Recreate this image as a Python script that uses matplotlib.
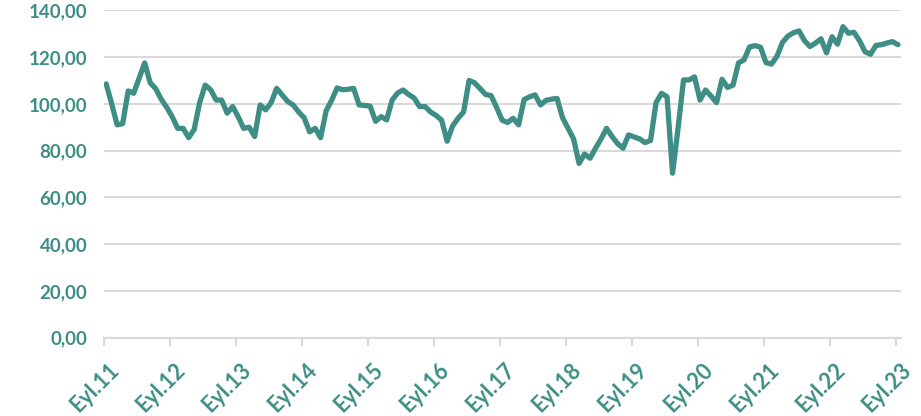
import matplotlib.pyplot as plt
from matplotlib.ticker import FuncFormatter, MultipleLocator
from matplotlib.transforms import ScaledTranslation

# monthly index, Eyl.11 .. Eyl.23
values = [
    108.5, 100.0, 91.0, 91.5, 105.5, 104.5, 111.0, 117.5, 109.0, 106.5, 102.0, 98.5,
    94.5, 89.5, 89.5, 85.5, 89.0, 100.5, 108.0, 106.0, 101.6, 101.6, 96.0, 98.8,
    94.5, 89.5, 90.0, 86.0, 99.5, 97.4, 100.5, 106.6, 103.8, 101.0, 99.5, 96.5,
    94.0, 88.0, 89.5, 85.5, 97.0, 101.5, 106.8, 106.0, 106.2, 106.6, 99.5, 99.3,
    99.0, 92.5, 94.5, 93.1, 101.6, 104.6, 105.9, 104.0, 102.5, 98.8, 98.8, 96.5,
    95.0, 93.0, 84.0, 90.5, 93.8, 96.5, 110.0, 109.0, 106.5, 104.0, 103.5, 98.5,
    93.0, 92.0, 93.8, 91.0, 101.8, 103.0, 103.8, 99.5, 101.5, 102.0, 102.3, 94.0,
    89.5, 85.0, 74.5, 78.5, 76.7, 81.0, 85.0, 89.5, 86.0, 83.0, 81.0, 86.7,
    85.8, 85.0, 83.4, 84.3, 100.5, 104.5, 103.0, 70.3, 89.5, 110.2, 110.2, 111.5,
    101.6, 105.9, 103.3, 100.5, 110.5, 107.0, 108.0, 117.5, 118.8, 124.3, 124.9, 124.2,
    117.6, 117.0, 120.4, 126.3, 129.0, 130.4, 131.2, 127.0, 124.5, 126.0, 127.8, 121.8,
    128.7, 125.5, 133.0, 130.2, 130.6, 127.0, 122.3, 121.2, 125.0, 125.3, 126.0, 126.6,
    125.3,
]
tick_labels = ["Eyl.11", "Eyl.12", "Eyl.13", "Eyl.14", "Eyl.15", "Eyl.16", "Eyl.17",
               "Eyl.18", "Eyl.19", "Eyl.20", "Eyl.21", "Eyl.22", "Eyl.23"]

teal = "#3e8e86"
grid = "#d9d9d9"

fig = plt.figure(figsize=(9.21, 4.16), dpi=100)
ax = fig.add_axes([0.1129, 0.1887, 0.978 - 0.1129, 0.9752 - 0.1887])

x = list(range(len(values)))
ax.plot(x, values, color=teal, lw=3.8, solid_joinstyle="round",
        solid_capstyle="round", zorder=3)

ax.set_ylim(0, 140)
ax.set_xlim(-0.4, 144.5)
ax.yaxis.set_major_locator(MultipleLocator(20))
ax.yaxis.set_major_formatter(FuncFormatter(lambda v, p: f"{v:.2f}".replace(".", ",")))
ax.grid(axis="y", color=grid, lw=1.5, zorder=0)

ticks = [12 * k - 0.4 for k in range(len(tick_labels))]
ax.set_xticks(ticks)
ax.set_xticklabels(tick_labels, rotation=45, ha="right", va="top",
                   rotation_mode="anchor")

for side in ["top", "right", "left"]:
    ax.spines[side].set_visible(False)
ax.spines["bottom"].set_color(grid)
ax.spines["bottom"].set_linewidth(1.5)

ax.tick_params(axis="y", length=0, pad=12, labelsize=13.5, labelcolor=teal)
ax.tick_params(axis="x", length=6, width=1.5, color=grid, pad=10,
               labelsize=15.5, labelcolor=teal)
shift = ScaledTranslation(3 / 72, 0, fig.dpi_scale_trans)
for lbl in ax.get_xticklabels():
    lbl.set_transform(lbl.get_transform() + shift)
for lbl in ax.get_xticklabels() + ax.get_yticklabels():
    lbl.set_fontfamily("Lato")
    lbl.set_fontweight("bold")

fig.savefig("out.png", dpi=100)
